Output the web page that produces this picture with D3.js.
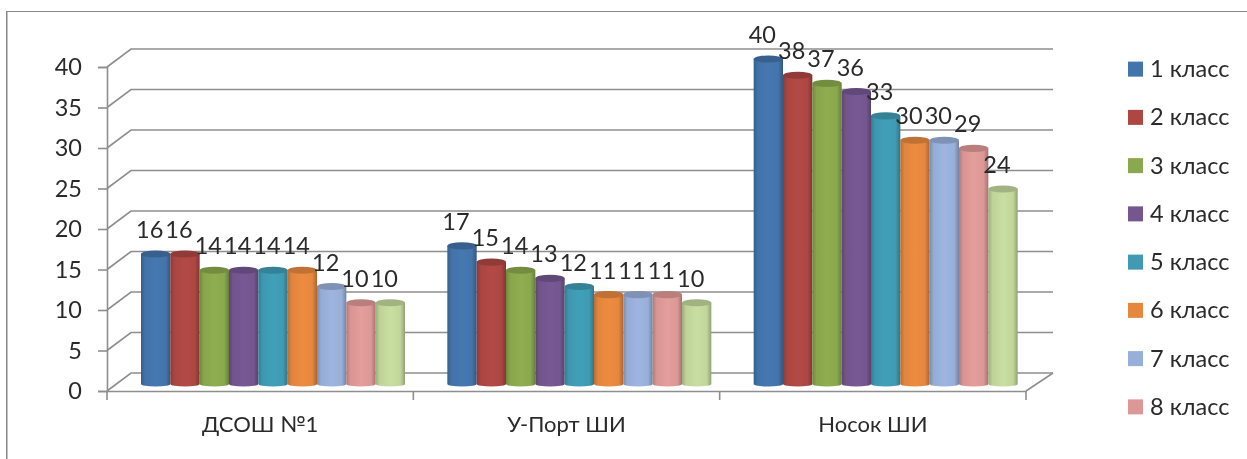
<!DOCTYPE html>
<html>
<head>
<meta charset="utf-8">
<script src="https://cdn.jsdelivr.net/npm/d3@7"></script>
<style>
  html, body { margin: 0; padding: 0; background: #fff; overflow: hidden; }
  svg { display: block; }
  text { font-family: Lato, "Open Sans", sans-serif; fill: #2b2b2b; }
</style>
</head>
<body>
<script>
const categories = ['ДСОШ №1', 'У-Порт ШИ', 'Носок ШИ'];
const dsosh = [16, 16, 14, 14, 14, 14, 12, 10, 10];
const uPort = [17, 15, 14, 13, 12, 11, 11, 11, 10];
const nosok = [40, 38, 37, 36, 33, 30, 30, 29, 24];
const legendLabels = ['1 класс', '2 класс', '3 класс', '4 класс', '5 класс', '6 класс', '7 класс', '8 класс'];
const seriesIds = ['s1', 's2', 's3', 's4', 's5', 's6', 's7', 's8', 's9'];
const seriesColors = ['#4374ab', '#ad4643', '#8aa84d', '#74568f', '#3f9ab3', '#e5873e', '#98afd9', '#dc9896', '#c2d69b'];
const yTicks = [0, 5, 10, 15, 20, 25, 30, 35, 40];

const rows = [dsosh, uPort, nosok];

const width = 1247;
const height = 459;
const wallLeft = 107;
const wallRight = 1026;
const backLeft = 131;
const backRight = 1053;
const depthY = -18;

const x0 = d3.scaleBand().domain(categories).range([wallLeft, wallRight]);
const x1 = d3.scaleBand().domain(seriesIds).range([34, 298]);
const y = d3.scaleLinear().domain([0, 40]).range([391, 67]);
// the cylinders stand in the middle of the floor, so a bit higher than the front axis
const yBar = d3.scaleLinear().domain([0, 40]).range([384, 59]);
const legendY = d3.scaleBand().domain(legendLabels).range([45, 431]);

const svg = d3.select('body').append('svg')
  .attr('width', width)
  .attr('height', height);

const defs = svg.append('defs');

defs.append('filter')
  .attr('id', 'soft')
  .attr('x', 0).attr('y', 0).attr('width', 1).attr('height', 1)
  .append('feGaussianBlur')
  .attr('stdDeviation', 0.5);

// one side-shaded gradient per colour
seriesIds.forEach((id, i) => {
  const base = d3.color(seriesColors[i]);
  const stops = [
    [0, base.darker(0.6)],
    [0.14, base.darker(0.05)],
    [0.5, base.brighter(0.1)],
    [0.84, base],
    [1, base.darker(0.8)]
  ];
  defs.append('linearGradient')
    .attr('id', 'grad-' + id)
    .selectAll('stop')
    .data(stops)
    .enter()
    .append('stop')
    .attr('offset', d => d[0])
    .attr('stop-color', d => d[1]);
});

const root = svg.append('g').attr('filter', 'url(#soft)');

// Outer frame
root.append('path')
  .attr('d', `M6.5,${height} V11 H${width}`)
  .attr('fill', 'none')
  .attr('stroke', '#888')
  .attr('stroke-width', 2);

// Walls and floor
const gridColor = '#8e8e8e';
const grid = root.append('g')
  .attr('fill', 'none')
  .attr('stroke', gridColor)
  .attr('stroke-width', 1.6);

grid.selectAll('.back')
  .data(yTicks)
  .enter()
  .append('path')
  .attr('class', 'back')
  .attr('d', d => `M${wallLeft},${y(d)} L${backLeft},${y(d) + depthY} H${backRight}`);

grid.append('path')
  .attr('d', `M${wallRight},${y(0)} L${backRight},${y(0) + depthY}`);

// Axes
const yAxis = d3.axisLeft(y)
  .tickValues(yTicks)
  .tickSize(9)
  .tickPadding(16);

const yAxisG = root.append('g')
  .attr('transform', `translate(${wallLeft}, 0)`)
  .call(yAxis);

const xAxis = d3.axisBottom(x0)
  .tickSize(0)
  .tickPadding(25);

const xAxisG = root.append('g')
  .attr('transform', `translate(0, ${y(0)})`)
  .call(xAxis);

// ticks sit between the categories, not under them
xAxisG.selectAll('.sep')
  .data(categories.map(c => x0(c)).concat(wallRight))
  .enter()
  .append('line')
  .attr('class', 'sep')
  .attr('x1', d => d)
  .attr('x2', d => d)
  .attr('y1', 0)
  .attr('y2', 9)
  .attr('stroke', gridColor)
  .attr('stroke-width', 1.6);

[yAxisG, xAxisG].forEach(g => {
  g.selectAll('.domain, .tick line')
    .attr('stroke', gridColor)
    .attr('stroke-width', 1.6);
  g.selectAll('.tick text')
    .attr('fill', '#2b2b2b')
    .style('font-family', 'Lato, "Open Sans", sans-serif')
    .style('font-size', '23.5px');
});
xAxisG.selectAll('.tick text').style('font-size', '22px');

// Cylinders
const rx = () => x1.bandwidth() / 2;
const ry = 3.6;

function body(d) {
  const left = x0(d.category) + x1(d.id);
  const right = left + x1.bandwidth();
  return `M${left},${yBar(d.value)} V${yBar(0)} A${rx()},${ry - 1} 0 0 0 ${right},${yBar(0)} V${yBar(d.value)} Z`;
}

const barData = categories.flatMap((category, c) =>
  seriesIds.map((id, i) => ({ category, id, value: rows[c][i], color: seriesColors[i] })));

const bars = root.append('g').selectAll('g')
  .data(barData)
  .enter()
  .append('g');

bars.append('path')
  .attr('d', body)
  .attr('fill', d => `url(#grad-${d.id})`);

bars.append('ellipse')
  .attr('cx', d => x0(d.category) + x1(d.id) + rx())
  .attr('cy', d => yBar(d.value))
  .attr('rx', rx())
  .attr('ry', ry)
  .attr('fill', d => d3.color(d.color).darker(0.5));

// Data labels
root.append('g').selectAll('text')
  .data(barData)
  .enter()
  .append('text')
  .attr('x', d => x0(d.category) + x1(d.id) + rx() - 6)
  .attr('y', d => yBar(d.value) - 16)
  .attr('text-anchor', 'middle')
  .style('font-size', '23.5px')
  .text(d => d.value);

// Legend
const legend = root.append('g').selectAll('g')
  .data(legendLabels)
  .enter()
  .append('g')
  .attr('transform', d => `translate(1128, ${legendY(d) + legendY.bandwidth() / 2})`);

legend.append('rect')
  .attr('x', 0)
  .attr('y', -7.5)
  .attr('width', 15)
  .attr('height', 15)
  .attr('fill', (d, i) => seriesColors[i]);

legend.append('text')
  .attr('x', 22)
  .attr('y', 8)
  .style('font-size', '23.5px')
  .text(d => d);
</script>
</body>
</html>
